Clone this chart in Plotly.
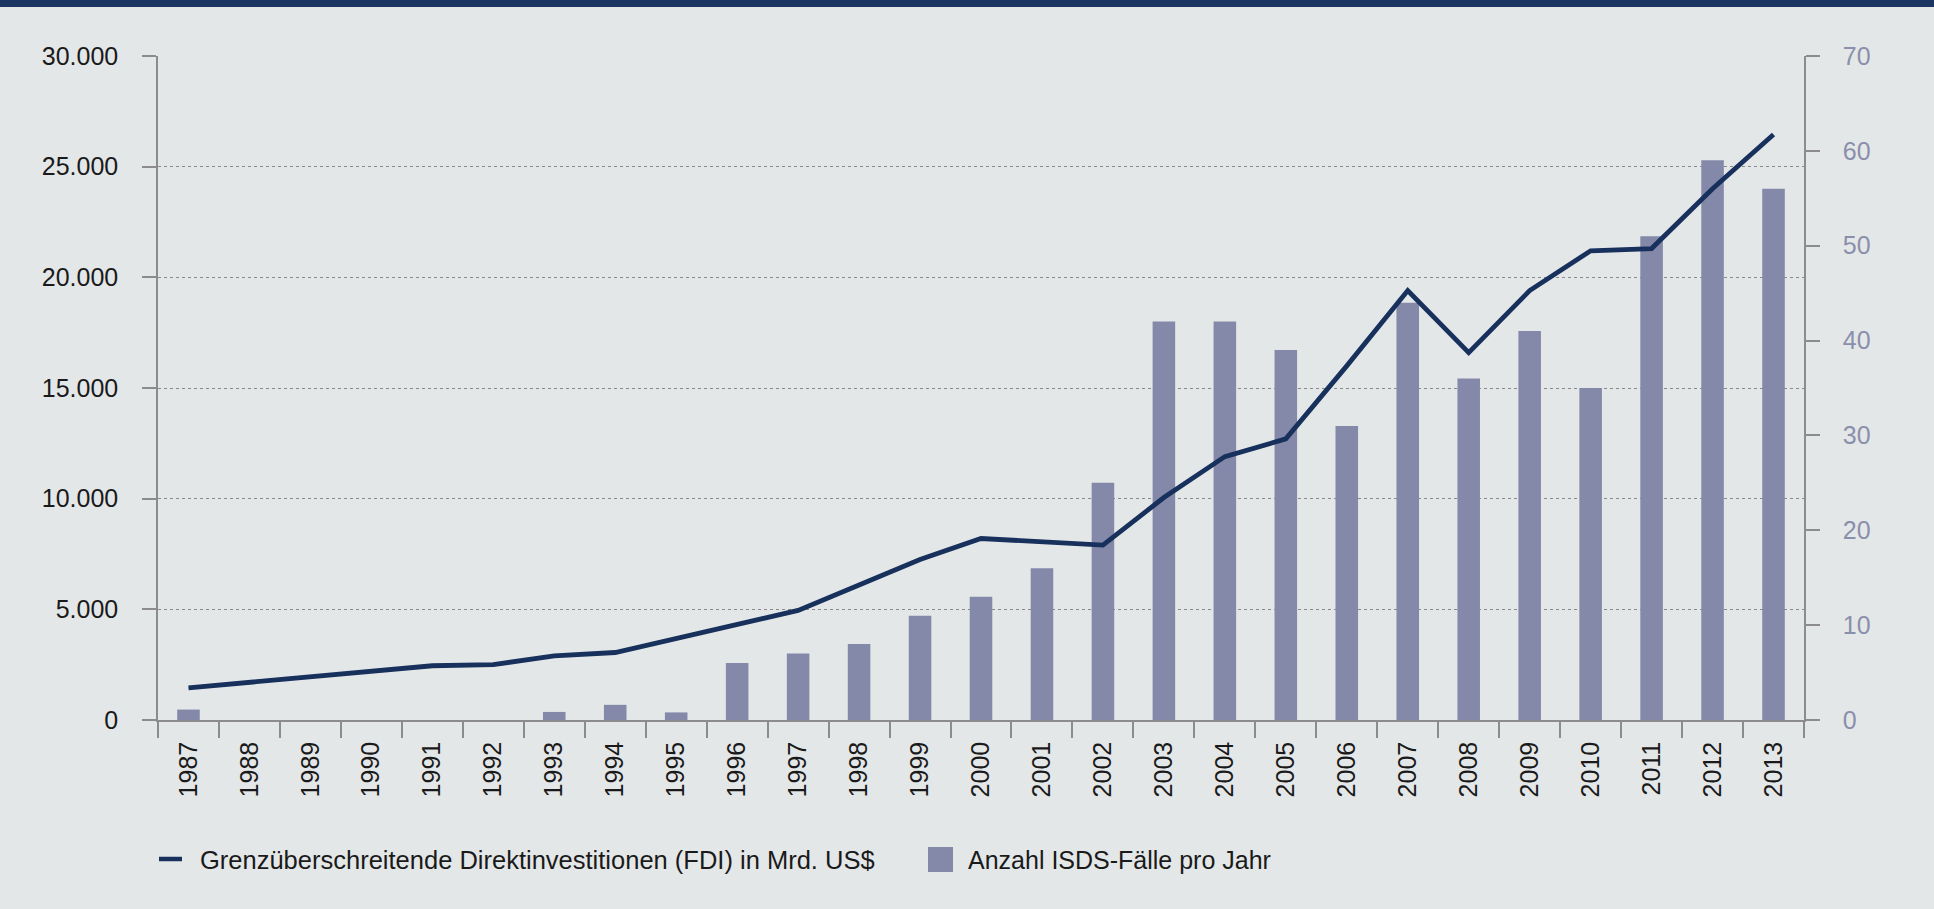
import plotly.graph_objects as go

years = [str(y) for y in range(1987, 2014)]
fdi = [1450, 1700, 1950, 2200, 2450, 2500, 2900, 3050, 3700, 4300, 4950, 6100,
       7250, 8200, 8050, 7900, 10050, 11900, 12700, 16000, 19400, 16600, 19400,
       21200, 21300, 24000, 26450]
isds = [1.1, 0, 0, 0, 0, 0, 0.85, 1.6, 0.8, 6, 7, 8, 11, 13, 16, 25, 42, 42, 39,
        31, 44, 36, 41, 35, 51, 59, 56]
left_ticks = [0, 5000, 10000, 15000, 20000, 25000, 30000]
right_ticks = [0, 10, 20, 30, 40, 50, 60, 70]
legend_fdi = "Grenzüberschreitende Direktinvestitionen (FDI) in Mrd. US$"
legend_isds = "Anzahl ISDS-Fälle pro Jahr"

W, H = 1934, 909
L, R, T, B = 158, 1804, 56, 720
BG = "#e4e7e8"
NAVY = "#17305c"
BAR = "#8589a9"
FONT = "Liberation Sans"

def px(x):
    return (x - L) / (R - L)

def py(y):
    return (B - y) / (B - T)

fig = go.Figure()
fig.add_trace(go.Bar(x=years, y=isds, marker=dict(color=BAR, line=dict(width=0)),
                     yaxis="y", showlegend=False, name=legend_isds))
fig.add_trace(go.Scatter(x=years, y=fdi, mode="lines", line=dict(color=NAVY, width=4.8),
                         yaxis="y2", showlegend=False, name=legend_fdi))

fig.update_layout(
    width=W, height=H,
    margin=dict(l=L, r=W - R, t=T, b=H - B, pad=0, autoexpand=False),
    paper_bgcolor=BG, plot_bgcolor=BG,
    separators=",.",
    bargap=0.63,
    font=dict(family=FONT, size=24, color="#1a1a1a"),
    xaxis=dict(type="category", tickangle=-90, showline=True, linecolor="#8c8c8c",
               linewidth=1.5, ticks="outside", ticklen=16, tickcolor="#8c8c8c",
               tickwidth=1.5, tickson="boundaries", showgrid=False,
               tickfont=dict(size=25, color="#1a1a1a"), ticklabelstandoff=10,
               range=[-0.5, len(years) - 0.5]),
    yaxis=dict(side="right", range=[0, 70], tickvals=right_ticks, showgrid=False,
               zeroline=False, showline=True, linecolor="#8c8c8c", linewidth=1.5,
               ticks="outside", ticklen=14, tickcolor="#8c8c8c", tickwidth=1.5,
               tickfont=dict(size=25, color="#8a8fab"), ticklabelstandoff=18),
    yaxis2=dict(side="left", overlaying="y", range=[0, 30000], tickvals=left_ticks,
                tickformat=",d", showgrid=True, gridcolor="#8a8a8a", griddash="dot",
                gridwidth=1, zeroline=False, showline=True, linecolor="#8c8c8c",
                linewidth=1.5, ticks="outside", ticklen=14, tickcolor="#8c8c8c",
                tickwidth=1.5, tickfont=dict(size=25, color="#1a1a1a"),
                ticklabelstandoff=19),
)

# top navy band
fig.add_shape(type="rect", xref="paper", yref="paper", x0=px(0), x1=px(W),
              y0=py(7), y1=py(0), fillcolor="#1b3563", line=dict(width=0), layer="above")

# manual legend
fig.add_shape(type="line", xref="paper", yref="paper", x0=px(159), x1=px(182),
              y0=py(859), y1=py(859), line=dict(color=NAVY, width=4.5))
fig.add_shape(type="rect", xref="paper", yref="paper", x0=px(928), x1=px(953),
              y0=py(872), y1=py(847), fillcolor=BAR, line=dict(width=0))
fig.add_annotation(xref="paper", yref="paper", x=px(198), y=py(860), text=legend_fdi,
                   showarrow=False, xanchor="left", yanchor="middle",
                   font=dict(size=25.5, color="#1a1a1a"))
fig.add_annotation(xref="paper", yref="paper", x=px(966), y=py(860), text=legend_isds,
                   showarrow=False, xanchor="left", yanchor="middle",
                   font=dict(size=25, color="#1a1a1a"))

fig.write_html("out.html", config={"displayModeBar": False},
               post_script="document.body.style.margin='0';document.body.style.background='#e4e7e8';")
